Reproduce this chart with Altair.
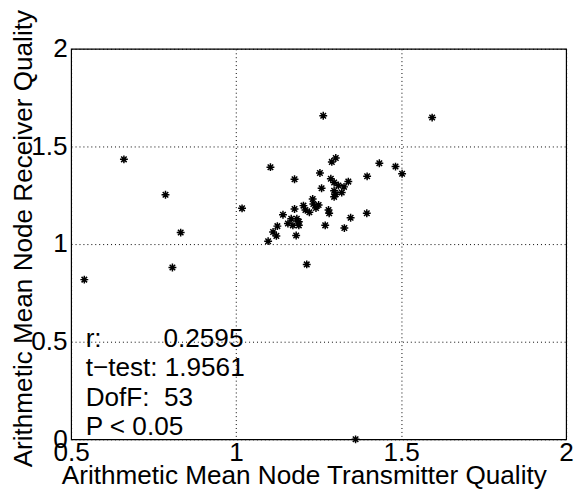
import altair as alt
import pandas as pd

x_vals = [0.540, 0.660, 0.786, 0.807, 0.832, 1.018, 1.104, 1.177, 1.264, 1.594,
          1.290, 1.302, 1.434, 1.483, 1.503, 1.254, 1.397, 1.287, 1.297, 1.340,
          1.327, 1.259, 1.297, 1.320, 1.297, 1.232, 1.234, 1.204, 1.210, 1.242,
          1.222, 1.177, 1.280, 1.282, 1.142, 1.167, 1.184, 1.157, 1.172, 1.190,
          1.347, 1.396, 1.270, 1.328, 1.125, 1.112, 1.122, 1.182, 1.097, 1.214,
          1.362, 1.302, 1.190, 1.250, 1.310]
y_vals = [0.818, 1.434, 1.253, 0.880, 1.059, 1.183, 1.394, 1.332, 1.657, 1.648,
          1.421, 1.441, 1.414, 1.397, 1.360, 1.364, 1.347, 1.335, 1.315, 1.320,
          1.293, 1.286, 1.273, 1.264, 1.242, 1.231, 1.205, 1.197, 1.175, 1.185,
          1.163, 1.180, 1.175, 1.158, 1.150, 1.130, 1.130, 1.105, 1.096, 1.096,
          1.135, 1.158, 1.096, 1.082, 1.092, 1.062, 1.042, 1.044, 1.015, 0.896,
          0.000, 1.255, 1.115, 1.200, 1.300]

x_ticks = [0.5, 1, 1.5, 2]
y_ticks = [0, 0.5, 1, 1.5, 2]

ann_text = ["r:", "0.2595", "t\u2212test: 1.9561", "DofF:\u00a0\u00a053", "P < 0.05"]
ann_x = [0.544, 0.780, 0.544, 0.544, 0.544]
ann_y = [0.515, 0.515, 0.364, 0.212, 0.061]

pts = pd.DataFrame({"x": x_vals, "y": y_vals})
ann = pd.DataFrame({"t": ann_text, "x": ann_x, "y": ann_y})

FONT = "Liberation Sans"
FS = 26.5

xscale = alt.Scale(domain=[0.5, 2], nice=False, zero=False)
yscale = alt.Scale(domain=[0, 2], nice=False, zero=False)

xaxis = alt.Axis(values=x_ticks, labelExpr="toString(datum.value)", grid=True,
                 gridColor="black", gridDash=[1, 3], gridOpacity=1, gridWidth=1,
                 ticks=False, domain=False, labelPadding=0, labelFontSize=FS,
                 labelFont=FONT, labelColor="black", labelFlush=False,
                 labelOverlap=False, labelBaseline="top",
                 title="Arithmetic Mean Node Transmitter Quality", titleFont=FONT,
                 titleFontSize=FS, titleFontWeight="normal", titleColor="black",
                 titleX=236, titleY=45, titleBaseline="alphabetic", titleAlign="center")
yaxis = alt.Axis(values=y_ticks, labelExpr="toString(datum.value)", grid=True,
                 gridColor="black", gridDash=[1, 3], gridOpacity=1, gridWidth=1,
                 ticks=False, domain=False, labelPadding=4, labelFontSize=FS,
                 labelFont=FONT, labelColor="black", labelFlush=False,
                 labelOverlap=False,
                 title="Arithmetic Mean Node Receiver Quality", titleFont=FONT,
                 titleFontSize=FS, titleFontWeight="normal", titleColor="black",
                 titleX=-40, titleY=192, titleAngle=-90, titleBaseline="alphabetic",
                 titleAlign="center")

star = "M0,-1L0,1M-1,0L1,0M-0.7,-0.7L0.7,0.7M-0.7,0.7L0.7,-0.7"

points = alt.Chart(pts).mark_point(shape=star, size=64, filled=False, stroke="black",
                                   strokeWidth=1.5, opacity=1).encode(
    x=alt.X("x:Q", scale=xscale, axis=xaxis),
    y=alt.Y("y:Q", scale=yscale, axis=yaxis),
)

texts = alt.Chart(ann).mark_text(align="left", baseline="middle", font=FONT,
                                 fontSize=FS, color="black").encode(
    x=alt.X("x:Q", scale=xscale),
    y=alt.Y("y:Q", scale=yscale),
    text="t:N",
)

chart = alt.layer(points, texts).properties(
    width=502, height=396,
    autosize=alt.AutoSizeParams(type="none"),
    padding={"left": 64, "top": 38, "right": 9, "bottom": 51},
    background="white",
).configure_view(stroke="black", strokeWidth=1.2)

chart.save("out.html", embed_options={"renderer": "svg", "actions": False})
